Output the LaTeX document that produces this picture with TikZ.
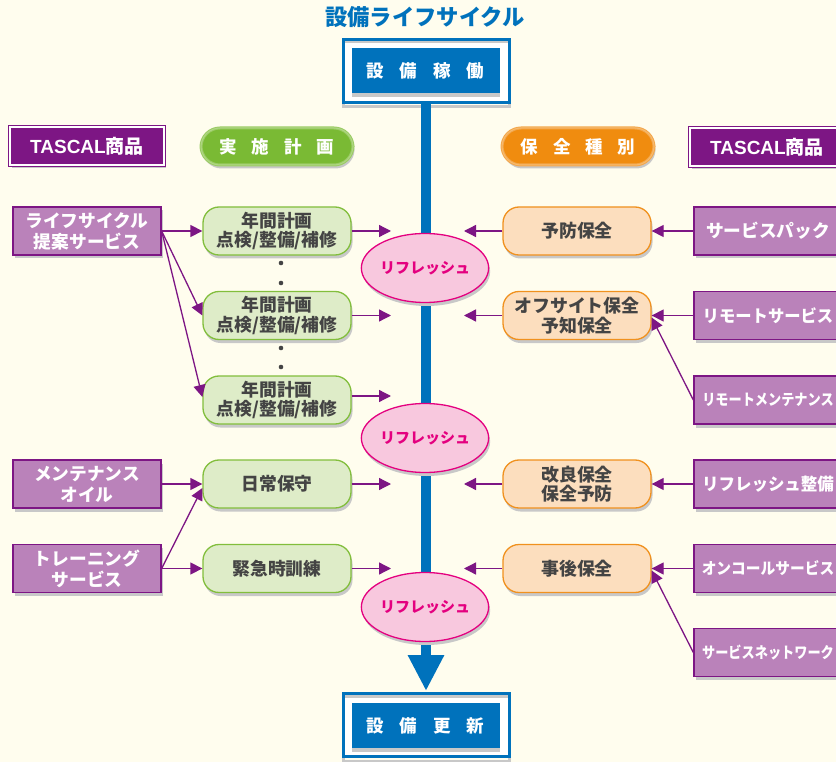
\documentclass[tikz,border=0pt]{standalone}
\usepackage{fontspec}
\setmainfont{Noto Sans CJK JP}
\newfontfamily\latinb{Liberation Sans}
\usetikzlibrary{arrows.meta,shapes.geometric,shadows}
\definecolor{bg}{RGB}{255,253,238}
\definecolor{cblue}{RGB}{0,114,188}
\definecolor{pdark}{RGB}{125,22,132}
\definecolor{plight}{RGB}{186,130,186}
\definecolor{gfill}{RGB}{222,236,200}
\definecolor{gline}{RGB}{130,190,60}
\definecolor{ghead}{RGB}{122,186,52}
\definecolor{ofill}{RGB}{252,222,190}
\definecolor{oline}{RGB}{240,145,30}
\definecolor{ohead}{RGB}{240,140,15}
\definecolor{pkfill}{RGB}{248,200,222}
\definecolor{pkline}{RGB}{228,0,127}
\definecolor{txt}{RGB}{68,68,68}
\definecolor{shgray}{RGB}{200,200,200}
\tikzset{
  shd/.style={drop shadow={shadow xshift=1.5pt,shadow yshift=-3.5pt,fill=shgray,opacity=1}},
  lbox/.style={shd,draw=pdark,line width=1.3pt,fill=plight,text=white,font=\bfseries\fontsize{17.7}{21}\selectfont,minimum width=148pt,minimum height=48pt,align=center,inner sep=0pt},
  rbox/.style={lbox},
  gbox/.style={shd,draw=gline,line width=1.3pt,fill=gfill,text=txt,rounded corners=16pt,font=\bfseries\fontsize{17.8}{19.5}\selectfont,minimum width=148pt,minimum height=48pt,align=center,inner sep=0pt},
  obox/.style={gbox,draw=oline,fill=ofill,font=\bfseries\fontsize{17.9}{19.5}\selectfont},
  refresh/.style={shd,ellipse,draw=pkline,line width=1.3pt,fill=pkfill,text=pkline,font=\bfseries\fontsize{15}{16}\selectfont,minimum width=96pt,minimum height=69pt,inner sep=0pt},
  tascal/.style={shd,draw=pdark,line width=1pt,double=white,double distance=1.2pt,fill=pdark,text=white,font=\bfseries\fontsize{19}{22}\selectfont,minimum width=154pt,minimum height=38pt,inner sep=0pt},
  pill/.style={shd,draw=gline!80!white,line width=1pt,double=white!40!ghead,double distance=1pt,fill=ghead,text=white,rounded corners=19pt,font=\bfseries\fontsize{17.5}{20}\selectfont,minimum width=152pt,minimum height=37pt,inner sep=0pt},
  frame/.style={draw=cblue,line width=3pt,fill=white,minimum width=166pt,minimum height=63pt,inner sep=0pt},
  bluebox/.style={drop shadow={shadow xshift=0pt,shadow yshift=-4pt,fill=shgray,opacity=1},fill=cblue,text=white,font=\bfseries\fontsize{17.5}{20}\selectfont,minimum width=148pt,minimum height=45pt,inner sep=0pt},
  parr/.style={draw=pdark,line width=1.3pt,-{Triangle[length=12pt,width=12pt]}},
  dot/.style={fill=txt}
}
\begin{document}
\begin{tikzpicture}[x=1pt,y=-1pt]
\useasboundingbox (0,0) rectangle (836,762);
\fill[bg] (0,0) rectangle (836,762);
\clip (0,0) rectangle (836,762);

% title
\node[text=cblue,font=\bfseries\fontsize{22.3}{25}\selectfont] (title) at (425,17) {設備ライフサイクル};

% top and bottom frames
\node[frame] (runf) at (426,71) {};
\draw[shgray,line width=3pt] (343,42) rectangle (509,107);
\draw[cblue,line width=3pt] (343,39.5) rectangle (509,102.5);
\node[bluebox] (run) at (425.5,70.5) {設\hspace{16pt}備\hspace{16pt}稼\hspace{16pt}働};

\node[frame] (newf) at (426,724.5) {};
\draw[shgray,line width=3pt] (343,696) rectangle (509,761);
\draw[cblue,line width=3pt] (343,693) rectangle (509,756);
\node[bluebox] (new) at (425.5,725.5) {設\hspace{16pt}備\hspace{16pt}更\hspace{16pt}新};

% main vertical arrow
\coordinate (vtop) at (426,104);
\coordinate (vtip) at (426,691);
\draw[cblue,line width=10pt,-{Triangle[length=36pt,width=34pt]}] (vtop) -- (vtip);

% refresh ellipses
\node[refresh] (r1) at (425,268) {リフレッシュ};
\node[refresh] (r2) at (425,438) {リフレッシュ};
\node[refresh] (r3) at (425,607) {リフレッシュ};

% headers
\node[tascal] (hl) at (87,146) {{\latinb TASCAL}商品};
\node[pill] (hplan) at (277,146.5) {実\hspace{15pt}施\hspace{15pt}計\hspace{15pt}画};
\node[pill,draw=oline!80!white,double=white!40!ohead,fill=ohead] (hkind) at (578,146.5) {保\hspace{15pt}全\hspace{15pt}種\hspace{15pt}別};
\node[tascal] (hr) at (767,147) {{\latinb TASCAL}商品};

% left purple boxes
\node[lbox] (l1) at (87,231) {ライフサイクル\\提案サービス};
\node[lbox] (l2) at (87,484) {メンテナンス\\オイル};
\node[lbox] (l3) at (87,568.5) {トレーニング\\サービス};

% green boxes
\node[gbox] (g1) at (277,231) {年間計画\\点検/整備/補修};
\node[gbox] (g2) at (277,315.5) {年間計画\\点検/整備/補修};
\node[gbox] (g3) at (277,400) {年間計画\\点検/整備/補修};
\node[gbox] (g4) at (277,484) {日常保守};
\node[gbox] (g5) at (277,568.5) {緊急時訓練};

% dots
\fill[dot] (281,263) circle (2.3);
\fill[dot] (281,283) circle (2.3);
\fill[dot] (281,348) circle (2.3);
\fill[dot] (281,367) circle (2.3);

% orange boxes
\node[obox] (o1) at (577,231) {予防保全};
\node[obox] (o2) at (577,315.5) {オフサイト保全\\予知保全};
\node[obox] (o3) at (577,484) {改良保全\\保全予防};
\node[obox] (o4) at (577,568.5) {事後保全};

% right purple boxes
\node[rbox] (q1) at (768,231) {サービスパック};
\node[rbox,font=\bfseries\fontsize{17}{19}\selectfont] (q2) at (768,315.5) {\scalebox{0.96}[1]{リモートサービス}};
\node[rbox,font=\bfseries\fontsize{15.5}{16}\selectfont] (q3) at (768,400) {\scalebox{0.85}[1]{リモートメンテナンス}};
\node[rbox,font=\bfseries\fontsize{17}{19}\selectfont] (q4) at (768,484) {\scalebox{0.97}[1]{リフレッシュ整備}};
\node[rbox,font=\bfseries\fontsize{16}{17}\selectfont] (q5) at (768,568.5) {\scalebox{0.92}[1]{オンコールサービス}};
\node[rbox,font=\bfseries\fontsize{15.5}{16}\selectfont] (q6) at (768,652.5) {\scalebox{0.85}[1]{サービスネットワーク}};

% free ends near the main line
\coordinate (ga1) at (391,231);
\coordinate (ga2) at (391,315.5);
\coordinate (ga3) at (391,396);
\coordinate (ga4) at (391,484);
\coordinate (ga5) at (391,568.5);
\coordinate (oa1) at (464,231);
\coordinate (oa2) at (464,315.5);
\coordinate (oa3) at (464,484);
\coordinate (oa4) at (464,568.5);

% left arrows
\draw[parr] (l1.east) -- (g1.west);
\draw[parr] (l1.east) -- (g2.west);
\draw[parr] (l1.east) -- ([yshift=3pt]g3.west);
\draw[parr] (l2.east) -- (g4.west);
\draw[parr] (l3.east) -- ([yshift=-4pt]g4.west);
\draw[parr] (l3.east) -- (g5.west);

\draw[parr] (g1.east) -- (ga1);
\draw[parr] (g2.east) -- (ga2);
\draw[parr] ([yshift=4pt]g3.east) -- (ga3);
\draw[parr] (g4.east) -- (ga4);
\draw[parr] (g5.east) -- (ga5);

% right arrows
\draw[parr] (o1.west) -- (oa1);
\draw[parr] (o2.west) -- (oa2);
\draw[parr] (o3.west) -- (oa3);
\draw[parr] (o4.west) -- (oa4);

\draw[parr] (q1.west) -- (o1.east);
\draw[parr] (q2.west) -- (o2.east);
\draw[parr] (q3.west) -- ([yshift=-2pt]o2.east);
\draw[parr] (q4.west) -- (o3.east);
\draw[parr] (q5.west) -- (o4.east);
\draw[parr] (q6.west) -- ([yshift=-2pt]o4.east);
\end{tikzpicture}
\end{document}
